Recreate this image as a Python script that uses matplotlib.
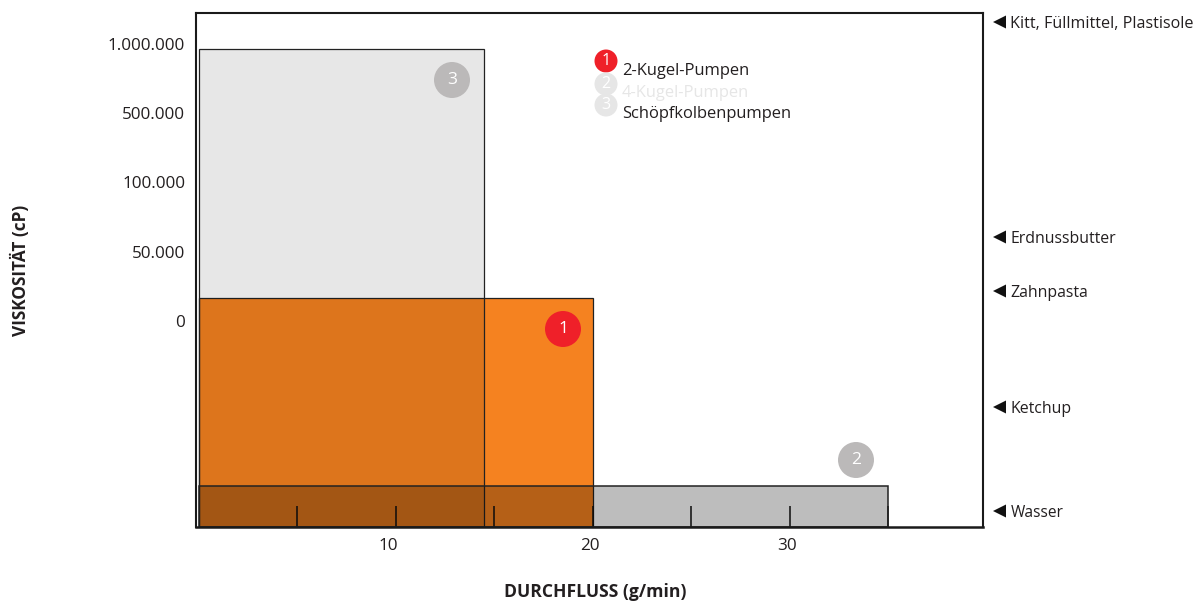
import matplotlib
matplotlib.use("Agg")
import matplotlib.pyplot as plt
from matplotlib.patches import Rectangle, Circle

plt.rcParams['font.family'] = ['Open Sans', 'DejaVu Sans']

# Data: the y axis is drawn as equal steps between tick labels (step index units)
y_tick_levels = [0, 1, 2, 3, 4]
y_tick_labels = ['0', '50.000', '100.000', '500.000', '1.000.000']
x_tick_values = [5, 10, 15, 20, 25, 30, 35]
x_label_text = ['10', '20', '30']
pump_names = ['2-Kugel-Pumpen', '4-Kugel-Pumpen', 'Schöpfkolbenpumpen']
pump_numbers = ['1', '2', '3']
pump_flow = [20.0, 35.0, 14.47]
pump_level = [0.33, -2.38, 3.93]
fluid_names = ['Kitt, Füllmittel, Plastisole', 'Erdnussbutter', 'Zahnpasta', 'Ketchup', 'Wasser']
fluid_px_y = [22, 237, 291, 407, 511]

W, H = 1198, 602
fig = plt.figure(figsize=(W / 100, H / 100), dpi=100)
L, R, T, B = 196, 983, 13, 527
ax = fig.add_axes([L / W, 1 - B / H, (R - L) / W, (B - T) / H])
ax.set_xlim((L - 198.5) / 19.7, (R - 198.5) / 19.7)
ax.set_ylim((321 - B) / 69.25, (321 - T) / 69.25)
base = ax.get_ylim()[0]

# bars: orange first, then grey layers as translucent black (multiply look)
edge = '#222222'
x0 = 0.02
ax.add_patch(Rectangle((x0, base), pump_flow[0] - x0, pump_level[0] - base, fc='#F58220', ec=edge, lw=0.9, zorder=2))
ax.add_patch(Rectangle((x0, base), pump_flow[2] - x0, pump_level[2] - base, fc=(0, 0, 0, 0.095), ec=edge, lw=0.9, zorder=3))
ax.add_patch(Rectangle((x0, base), pump_flow[1] - x0, pump_level[1] - base, fc=(0, 0, 0, 0.26), ec=edge, lw=1.1, zorder=4))

ax.set_xticks(x_tick_values)
ax.tick_params(axis='x', which='major', direction='in', length=15, width=1.1, color='#111111',
               labelbottom=False, top=False)
ax.set_yticks(y_tick_levels)
ax.set_yticklabels([])
ax.tick_params(axis='y', length=0)
for s in ax.spines.values():
    s.set_linewidth(1.5)
    s.set_color('#1a1a1a')
    s.set_zorder(6)
ax.spines['bottom'].set_linewidth(1.8)
ax.set_axisbelow(False)

TXT = '#231F20'
def px(x, y, s, **kw):
    kw.setdefault('color', TXT)
    kw.setdefault('fontsize', 11.3)
    kw.setdefault('va', 'center')
    return fig.text(x / W, 1 - y / H, s, **kw)

# y tick labels
for lv, lab in zip(y_tick_levels, y_tick_labels):
    px(185, 323 - lv * 69.25, lab, ha='right', fontsize=12.3)
# x tick labels
for x, lab in zip([388, 590, 787], x_label_text):
    px(x, 546.5, lab, ha='center', fontsize=12.3)
# axis titles
px(595, 592, 'DURCHFLUSS (g/min)', ha='center', fontweight='bold', fontsize=12.6)
px(20, 270, 'VISKOSITÄT (cP)', ha='center', rotation=90, fontweight='bold', fontsize=12.4)

# circles and legend in figure pixel space
def circ(x, y, d, col, s, tcol='white', fs=11):
    fig.add_artist(Circle((x, H - y), d / 2, fc=col, ec='none', transform=None, zorder=8))
    px(x, y, s, ha='center', color=tcol, fontsize=fs, zorder=9)

circ(563, 329, 36, '#EF2029', pump_numbers[0], fs=12.5)
circ(856, 460, 36, '#BBB9B9', pump_numbers[1], fs=12.5)
circ(452, 80, 36, '#BBB9B9', pump_numbers[2], fs=12.5)

leg_cols = ['#EF2029', '#E6E6E6', '#E6E6E6']
for cy, ty, col, num, name, tc in zip([61, 84, 105], [71, 93, 114], leg_cols, pump_numbers,
                                      pump_names, [TXT, '#E6E6E6', TXT]):
    circ(606, cy, 23, col, num, fs=11.5)
    px(622, ty, name, color=tc, fontsize=11.9, zorder=10)

# fluid labels with triangles
for y, name, fs in zip(fluid_px_y, fluid_names, [11.6, 11.4, 11.4, 11.4, 11.2]):
    fig.add_artist(plt.Polygon([(993, H - y), (1006, H - y + 6.5), (1006, H - y - 6.5)], closed=True,
                               fc='#111111', ec='none', transform=None))
    px(1010.5, y + 2, name, fontsize=fs)

fig.savefig('out.png', dpi=100)
